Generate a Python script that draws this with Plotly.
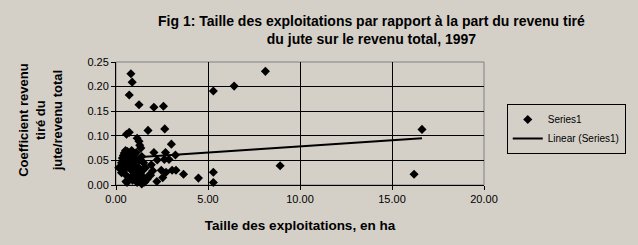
import plotly.graph_objects as go

# Farm size (ha) vs share of income from jute
size_ha = [
    0.81, 0.88, 0.72, 1.25, 2.06, 2.58,
    0.57, 0.72, 1.74, 2.65, 1.15, 1.25, 1.29, 3.01,
    2.06, 2.69, 3.23, 2.63, 2.24, 2.88, 1.92, 2.00, 2.46, 2.72,
    3.05, 3.26, 3.67, 4.48, 2.54, 2.22,
    5.29, 5.29, 5.29, 6.42, 8.12, 8.92, 16.63, 16.20,
    0.15, 0.30, 0.35, 0.40, 0.42, 0.45, 0.48, 0.50, 0.52, 0.55,
    0.58, 0.60, 0.62, 0.65, 0.68, 0.70, 0.72, 0.75, 0.78, 0.80,
    0.82, 0.85, 0.88, 0.90, 0.95, 1.00, 1.05, 1.10,
    0.30, 0.45, 0.55, 0.60, 0.70, 0.80, 0.85, 0.90, 0.95, 1.00,
    1.05, 1.10, 1.15, 1.20, 1.25, 1.30, 1.35, 1.40, 1.45, 1.50,
    1.55, 1.60, 1.70, 1.80, 1.25, 1.40, 1.35, 1.50, 0.54, 1.88, 1.68, 1.56,
]
jute_share = [
    0.226, 0.209, 0.183, 0.163, 0.158, 0.160,
    0.103, 0.107, 0.111, 0.114, 0.095, 0.089, 0.081, 0.083,
    0.066, 0.066, 0.061, 0.052, 0.051, 0.052, 0.041, 0.029, 0.030, 0.026,
    0.030, 0.030, 0.022, 0.014, 0.015, 0.007,
    0.191, 0.026, 0.005, 0.201, 0.231, 0.039, 0.113, 0.022,
    0.035, 0.045, 0.055, 0.060, 0.050, 0.065, 0.040, 0.055, 0.070, 0.048,
    0.062, 0.052, 0.068, 0.045, 0.058, 0.050, 0.064, 0.055, 0.048, 0.060,
    0.052, 0.070, 0.045, 0.056, 0.050, 0.062, 0.048, 0.066,
    0.025, 0.030, 0.020, 0.005, 0.035, 0.015, 0.030, 0.010, 0.025, 0.040,
    0.012, 0.030, 0.005, 0.020, 0.035, 0.010, 0.025, 0.002, 0.030, 0.015,
    0.006, 0.035, 0.012, 0.020, 0.050, 0.058, 0.075, 0.045, 0.007, 0.020, 0.012, 0.006,
]

# Linear trendline endpoints
trend_x = [0.15, 16.63]
trend_y = [0.054, 0.095]

x_ticks = [0, 5, 10, 15, 20]
y_ticks = [0.00, 0.05, 0.10, 0.15, 0.20, 0.25]

BG = "#D4D0C8"
FONT = "Liberation Sans, Arial, sans-serif"

fig = go.Figure()
fig.add_trace(go.Scatter(
    x=size_ha, y=jute_share, mode="markers", name="Series1",
    marker=dict(symbol="diamond", size=7, color="black"),
    cliponaxis=False,
))
fig.add_trace(go.Scatter(
    x=trend_x, y=trend_y, mode="lines", name="Linear (Series1)",
    line=dict(color="black", width=2),
    cliponaxis=False,
))

fig.update_layout(
    width=638, height=245,
    margin=dict(l=116, r=150, t=62, b=60),
    paper_bgcolor=BG, plot_bgcolor=BG,
    font=dict(family=FONT, size=11, color="black"),
    xaxis=dict(
        range=[0, 20], tickvals=x_ticks, tickformat=".2f",
        showgrid=True, gridcolor="black", gridwidth=1,
        showline=True, linecolor="black", linewidth=1,
        ticks="outside", ticklen=4, tickcolor="black",
        zeroline=False,
        title=dict(text="<b>Taille des exploitations, en ha</b>", standoff=16,
                   font=dict(family=FONT, size=13.5)),
    ),
    yaxis=dict(
        range=[0, 0.25], tickvals=y_ticks, tickformat=".2f",
        showgrid=True, gridcolor="black", gridwidth=1,
        showline=True, linecolor="black", linewidth=1,
        ticks="outside", ticklen=4, tickcolor="black",
        zeroline=False,
    ),
    legend=dict(
        x=(511 - 116) / 372, xanchor="left",
        y=(185 - 104) / 123, yanchor="top",
        bgcolor=BG, bordercolor="black", borderwidth=1,
        font=dict(family=FONT, size=10),
        tracegroupgap=0,
    ),
    showlegend=True,
)

# gray plot-area border (top/right)
fig.add_shape(type="rect", xref="paper", yref="paper", x0=0, y0=0, x1=1, y1=1,
              line=dict(color="#808080", width=1), layer="below")

# chart title (two centred lines)
fig.add_annotation(
    text="<b>Fig 1: Taille des exploitations par rapport à la part du revenu tiré<br>du jute sur le revenu total, 1997</b>",
    xref="paper", yref="paper", x=(374 - 116) / 372, y=(185 - 30) / 123,
    xanchor="center", yanchor="middle", showarrow=False, align="center",
    font=dict(family=FONT, size=14, color="black"),
)

# y-axis title as three centred lines
fig.add_annotation(
    text="<b>Coefficient revenu<br>tiré du<br>jute/revenu total</b>",
    xref="paper", yref="paper", x=(39 - 116) / 372, y=(185 - 120) / 123,
    xanchor="center", yanchor="middle", textangle=-90, showarrow=False,
    font=dict(family=FONT, size=13, color="black"),
)

fig.write_html("out.html")
